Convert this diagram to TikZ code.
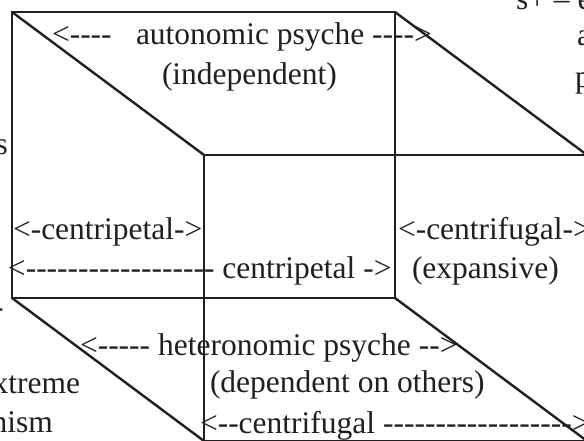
\documentclass[tikz,border=0pt]{standalone}
\usepackage{fontspec}
\setmainfont{Liberation Serif}[Ligatures=TeXOff]
\definecolor{ink}{HTML}{231F20}
\tikzset{
  cube/.style={draw=ink, line width=2.4pt, line join=miter},
  txt/.style={anchor=base west, inner sep=0pt, outer sep=0pt, text=ink, font=\fontsize{31.5}{36}\selectfont},
  txtr/.style={txt, anchor=base east}
}
\begin{document}
\begin{tikzpicture}[x=1pt,y=-1pt]
\useasboundingbox (0,0) rectangle (584,441);
\clip (0,0) rectangle (584,441);
% cube corners
\coordinate (A) at (12,12);
\coordinate (B) at (395,12);
\coordinate (C) at (395,298);
\coordinate (D) at (12,298);
\coordinate (E) at (204,155);
\coordinate (F) at (587,155);
\coordinate (G) at (587,441);
\coordinate (H) at (204,441);
\draw[cube] (A) -- (B) -- (C) -- (D) -- cycle;
\draw[cube] (E) -- (F) -- (G) -- (H) -- cycle;
\draw[cube] (A) -- (E) (B) -- (F) (C) -- (G) (D) -- (H);
% texts
\node[txt] (t1a) at (52,45) {<----};
\node[txt] (t1b) at (136,45) {autonomic psyche ---->};
\node[txt] (t2) at (162,85) {(independent)};
\node[txt] (t3) at (13,240) {<-centripetal->};
\node[txt] (t4) at (8,278) {<------------------ centripetal ->};
\node[txt] (t5) at (398,240) {<-centrifugal->};
\node[txt] (t6) at (412,278) {(expansive)};
\node[txt] (t7) at (80,355) {<----- heteronomic psyche -->};
\node[txt] (t8) at (210,392) {(dependent on others)};
\node[txt] (t9) at (200,433) {<--centrifugal ------------------>};
% cut-off fragments at the edges
\node[txtr] (l1) at (8,155) {s};
\node[txtr] (l2) at (3.5,317) {-};
\node[txtr] (l3) at (80,393) {xtreme};
\node[txtr] (l4) at (53,432) {nism};
\node[txt] (r1) at (516,10) {s+ – e};
\node[txt] (r2) at (577,46) {a};
\node[txt] (r3) at (575,88) {p};
\end{tikzpicture}
\end{document}
